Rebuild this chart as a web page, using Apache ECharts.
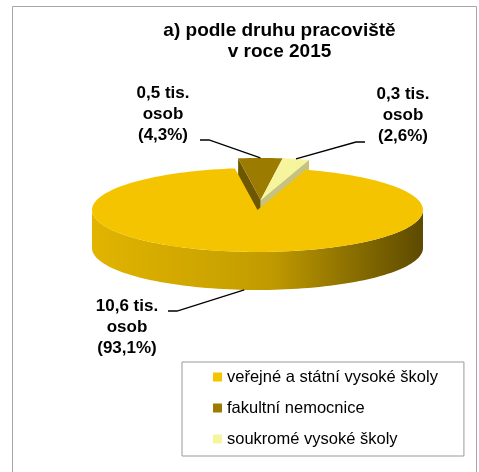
<!DOCTYPE html>
<html>
<head>
<meta charset="utf-8">
<script src="https://cdn.jsdelivr.net/npm/echarts@6/dist/echarts.min.js"></script>
<style>
  html, body { margin: 0; padding: 0; background: #fff; }
  #graph1 { width: 479px; height: 472px; }
</style>
</head>
<body>
<div id="graph1"></div>
<script>
/* data */
var categories = ['veřejné a státní vysoké školy', 'fakultní nemocnice', 'soukromé vysoké školy'];
var shares = [93.1, 4.3, 2.6];     // podíl v %
var persons = [10.6, 0.5, 0.3];    // tis. osob
var colors = ['#f5c400', '#9c7c00', '#f7f49e'];
var explode = [0, 0.24, 0.24];

/* 3D pie layout */
var pie = { cx: 257.5, cy: 210, rx: 165.5, ry: 42, depth: 38, start: 17 };
/* label: text center x, first line y, leader start */
var labelLayout = [
  { x: 127, y: 306, lx: 168, ly: 311 },
  { x: 163, y: 93, lx: 200, ly: 140 },
  { x: 403, y: 94, lx: 365, ly: 142 }
];
var FONT = '"Liberation Sans", Arial, sans-serif';

function fmt(v) {
  return String(v).replace('.', ',');
}

/* darken color by k (0..1) */
function shade(color, k) {
  var c = echarts.color.parse(color);
  return 'rgb(' + Math.round(c[0] * (1 - k)) + ',' + Math.round(c[1] * (1 - k)) + ',' + Math.round(c[2] * (1 - k)) + ')';
}

function pt(deg, dx, dy, down) {
  var a = deg * Math.PI / 180;
  return [pie.cx + dx + pie.rx * Math.sin(a), pie.cy + dy - pie.ry * Math.cos(a) + (down || 0)];
}

function sliceAngles(i) {
  var total = 0, before = 0;
  for (var k = 0; k < shares.length; k++) {
    total += shares[k];
    if (k < i) before += shares[k];
  }
  var s = pie.start + before / total * 360;
  return [s, s + shares[i] / total * 360];
}

/* exploded neighbours move together: direction = mid of the whole run */
function explodeMid(i) {
  var n = shares.length, first = i, last = i;
  while (first > 0 && explode[first - 1]) first--;
  while (last < n - 1 && explode[last + 1]) last++;
  return (sliceAngles(first)[0] + sliceAngles(last)[1]) / 2;
}

function arcPoints(a0, a1, dx, dy, down) {
  var pts = [];
  var n = Math.max(2, Math.ceil(Math.abs(a1 - a0) / 2));
  for (var k = 0; k <= n; k++) {
    pts.push(pt(a0 + (a1 - a0) * k / n, dx, dy, down));
  }
  return pts;
}

/* one slice = walls + side + top + label */
function renderSlice(params, api) {
  var i = params.seriesIndex;
  var n = shares.length;
  var ang = sliceAngles(i);
  var a0 = ang[0], a1 = ang[1], mid = (a0 + a1) / 2;
  var rad = Math.PI / 180;
  var em = explodeMid(i);
  var dx = explode[i] * pie.rx * Math.sin(em * rad);
  var dy = -explode[i] * pie.ry * Math.cos(em * rad);
  var tip = [pie.cx + dx, pie.cy + dy];
  var color = colors[i];
  var children = [];

  // radial walls (exploded slices, facing viewer, neighbour not exploded)
  if (explode[i] > 0) {
    var walls = [];
    if (Math.sin(a0 * rad) < 0 && !explode[(i + n - 1) % n]) walls.push(a0);
    if (Math.sin(a1 * rad) > 0 && !explode[(i + 1) % n]) walls.push(a1);
    walls.forEach(function (a) {
      children.push({
        type: 'polygon',
        shape: { points: [tip, pt(a, dx, dy), pt(a, dx, dy, pie.depth), [tip[0], tip[1] + pie.depth]] },
        style: { fill: shade(color, i === 1 ? 0.3 : 0.2) }
      });
    });
  }

  // front side
  var lo = Math.max(a0, 90), hi = Math.min(a1, 270);
  if (lo < hi) {
    var side = arcPoints(lo, hi, dx, dy, 0).concat(arcPoints(hi, lo, dx, dy, pie.depth));
    children.push({
      type: 'polygon',
      shape: { points: side },
      style: {
        fill: new echarts.graphic.LinearGradient(pie.cx - pie.rx, 0, pie.cx + pie.rx, 0, [
          { offset: 0, color: shade(color, 0.08) },
          { offset: 0.4, color: shade(color, 0.17) },
          { offset: 0.55, color: shade(color, 0.22) },
          { offset: 0.8, color: shade(color, 0.45) },
          { offset: 1, color: shade(color, 0.62) }
        ], true)
      }
    });
  }

  // top face
  children.push({
    type: 'polygon',
    shape: { points: [tip].concat(arcPoints(a0, a1, dx, dy, 0)) },
    style: { fill: color }
  });

  // label + leader
  var lay = labelLayout[i];
  var end = Math.cos(mid * rad) < 0 ? pt(mid, dx, dy, pie.depth) : pt(mid, dx, dy, 0);
  var dir = end[0] > lay.lx ? 1 : -1;
  children.push({
    type: 'polyline',
    shape: { points: [[lay.lx, lay.ly], [lay.lx + dir * 9, lay.ly], end] },
    style: { stroke: '#000', lineWidth: 1.3, fill: null }
  });
  children.push({
    type: 'text',
    style: {
      text: fmt(persons[i]) + ' tis.\nosob\n(' + fmt(shares[i]) + '%)',
      x: lay.x,
      y: lay.y - 10.5,
      align: 'center',
      verticalAlign: 'top',
      font: 'bold 17px ' + FONT,
      lineHeight: 21,
      fill: '#000'
    }
  });

  return { type: 'group', children: children };
}

var myChart = echarts.init(document.getElementById('graph1'));

var series = [];
for (var i = 0; i < categories.length; i++) {
  series.push({
    name: categories[i],
    type: 'custom',
    coordinateSystem: 'none',
    renderItem: renderSlice,
    itemStyle: { color: colors[i] },
    z: i === 0 ? 3 : 2,
    data: [shares[i]]
  });
}

var option = {
  animation: false,
  title: {
    text: 'a) podle druhu pracoviště\nv roce 2015',
    left: 279.5,
    top: 20,
    padding: 0,
    textAlign: 'center',
    textStyle: {
      fontFamily: FONT,
      fontSize: 19,
      fontWeight: 'bold',
      lineHeight: 21,
      color: '#000'
    }
  },
  legend: {
    orient: 'vertical',
    left: 182,
    top: 362,
    data: categories,
    icon: 'rect',
    itemWidth: 9,
    itemHeight: 9,
    itemGap: 13,
    padding: [6, 26, 8, 31],
    borderColor: '#999',
    borderWidth: 1,
    selectedMode: false,
    textStyle: {
      fontFamily: FONT,
      fontSize: 16.5,
      lineHeight: 18,
      color: '#000'
    }
  },
  graphic: [
    {
      type: 'rect',
      silent: true,
      shape: { x: 12.5, y: 6.5, width: 464, height: 480 },
      style: { fill: 'none', stroke: '#a6a6a6', lineWidth: 1 }
    }
  ],
  series: series
};

myChart.setOption(option);
</script>
</body>
</html>
